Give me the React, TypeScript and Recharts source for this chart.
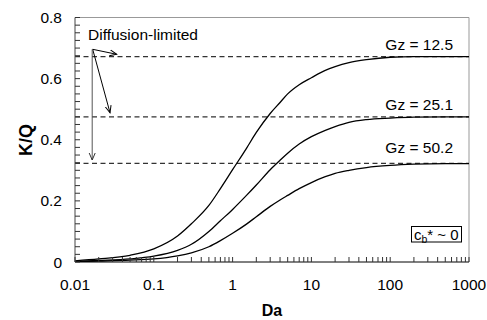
import React from 'react';
import { LineChart, Line, XAxis, YAxis, ReferenceLine } from 'recharts';

// Damköhler number (x axis)
const da = [0.01, 0.02, 0.05, 0.1, 0.2, 0.3, 0.5, 0.7, 1, 1.5, 2, 3, 4, 5, 7, 10, 15, 20, 30, 50, 100, 200, 500, 1000];
// K/Q for each Graetz number
const kqGz125 = [0.004, 0.01, 0.022, 0.043, 0.085, 0.125, 0.185, 0.24, 0.302, 0.372, 0.424, 0.486, 0.522, 0.55, 0.58, 0.603, 0.627, 0.639, 0.652, 0.662, 0.67, 0.672, 0.672, 0.672];
const kqGz251 = [0.002, 0.005, 0.01, 0.019, 0.038, 0.058, 0.1, 0.135, 0.172, 0.218, 0.252, 0.302, 0.333, 0.356, 0.386, 0.41, 0.431, 0.443, 0.457, 0.466, 0.471, 0.474, 0.475, 0.475];
const kqGz502 = [0.001, 0.003, 0.006, 0.01, 0.02, 0.03, 0.05, 0.07, 0.094, 0.124, 0.148, 0.182, 0.203, 0.218, 0.24, 0.26, 0.279, 0.29, 0.3, 0.309, 0.316, 0.32, 0.322, 0.322];

// Diffusion-limited asymptotes
const limits = [0.672, 0.475, 0.323];
const gzLabels = ['Gz = 12.5', 'Gz = 25.1', 'Gz = 50.2'];
const gzLabelRaise = [6.7, 6.7, 10];

const xMajor = [0.01, 0.1, 1, 10, 100, 1000];
const xMajorLabels = ['0.01', '0.1', '1', '10', '100', '1000'];
const xMinorMultipliers = [2, 3, 4, 5, 6, 7, 8, 9];
const yMajor = [0, 0.2, 0.4, 0.6, 0.8];
const yMajorLabels = ['0', '0.2', '0.4', '0.6', '0.8'];
const yMinor = [0.025, 0.05, 0.075, 0.1, 0.125, 0.15, 0.175, 0.225, 0.25, 0.275, 0.3, 0.325, 0.35, 0.375, 0.425, 0.45, 0.475, 0.5, 0.525, 0.55, 0.575, 0.625, 0.65, 0.675, 0.7, 0.725, 0.75, 0.775];

const xTicks = [
  ...xMajor,
  ...xMajor.slice(0, -1).flatMap((d) => xMinorMultipliers.map((m) => +(d * m).toPrecision(3))),
].sort((a, b) => a - b);
const yTicks = [...yMajor, ...yMinor].sort((a, b) => a - b);

const data = da.map((d, i) => ({ da: d, g1: kqGz125[i], g2: kqGz251[i], g3: kqGz502[i] }));

const FONT = '"Liberation Sans", Arial, sans-serif';

const XTick = (props: any) => {
  const { x, y, payload } = props;
  const v = payload.value;
  const idx = xMajor.findIndex((m) => Math.abs(m - v) < 1e-9);
  return (
    <g>
      <line x1={x} x2={x} y1={y} y2={y - 5} stroke="#333" strokeWidth={1} />
      {idx >= 0 && (
        <text x={x} y={y + 28} textAnchor="middle" fontFamily={FONT} fontSize={15.5} fill="#000">
          {xMajorLabels[idx]}
        </text>
      )}
    </g>
  );
};

const YTick = (props: any) => {
  const { x, y, payload } = props;
  const v = payload.value;
  const idx = yMajor.findIndex((m) => Math.abs(m - v) < 1e-9);
  return (
    <g>
      <line x1={x} x2={x + 5} y1={y} y2={y} stroke="#333" strokeWidth={1} />
      {idx >= 0 && (
        <text x={x - 13} y={y} dy="0.36em" textAnchor="end" fontFamily={FONT} fontSize={15.5} fill="#000">
          {yMajorLabels[idx]}
        </text>
      )}
    </g>
  );
};

const makeGzLabel = (i: number) => (props: any) => {
  const vb = props.viewBox || {};
  const x = (vb.x ?? 0) + (vb.width ?? 0) - 16;
  const y = (vb.y ?? 0) - gzLabelRaise[i];
  return (
    <text x={x} y={y} textAnchor="end" fontFamily={FONT} fontSize={15.5} fill="#000">
      {gzLabels[i]}
    </text>
  );
};

export default function App() {
  return (
    <div style={{ position: 'absolute', left: 0, top: 0, width: 487, height: 320, background: '#fff' }}>
      <LineChart
        width={487}
        height={320}
        data={data}
        margin={{ top: 17.5, right: 18, bottom: 18, left: 30 }}
      >
        <XAxis
          dataKey="da"
          type="number"
          scale="log"
          domain={[0.01, 1000]}
          allowDataOverflow
          ticks={xTicks}
          interval={0}
          tickSize={0}
          tickMargin={0}
          tickLine={false}
          tick={(p: any) => <XTick {...p} />}
          axisLine={{ stroke: '#000', strokeWidth: 1 }}
          height={40}
        />
        <YAxis
          type="number"
          domain={[0, 0.8]}
          allowDataOverflow
          ticks={yTicks}
          interval={0}
          tickSize={0}
          tickMargin={0}
          tickLine={false}
          tick={(p: any) => <YTick {...p} />}
          axisLine={{ stroke: '#444', strokeWidth: 1 }}
          width={45}
        />
        <ReferenceLine y={0.8} stroke="#999" strokeWidth={1} />
        <ReferenceLine x={1000} stroke="#999" strokeWidth={1} />
        {limits.map((v, i) => (
          <ReferenceLine
            key={i}
            y={v}
            stroke="#333"
            strokeWidth={1.2}
            strokeDasharray="5 3.5"
            label={makeGzLabel(i)}
          />
        ))}
        <Line type="monotone" dataKey="g1" stroke="#000" strokeWidth={1.3} dot={false} isAnimationActive={false} />
        <Line type="monotone" dataKey="g2" stroke="#000" strokeWidth={1.3} dot={false} isAnimationActive={false} />
        <Line type="monotone" dataKey="g3" stroke="#000" strokeWidth={1.3} dot={false} isAnimationActive={false} />
      </LineChart>
      <svg
        width={487}
        height={320}
        style={{ position: 'absolute', left: 0, top: 0, pointerEvents: 'none' }}
      >
        <defs>
          <marker id="ah" markerWidth={8} markerHeight={8} refX={7} refY={4} orient="auto" markerUnits="userSpaceOnUse">
            <path d="M0,1 L7,4 L0,7" fill="none" stroke="#000" strokeWidth={1} />
          </marker>
          <marker id="ahg" markerWidth={8} markerHeight={8} refX={7} refY={4} orient="auto" markerUnits="userSpaceOnUse">
            <path d="M0,1 L7,4 L0,7" fill="none" stroke="#333" strokeWidth={1} />
          </marker>
        </defs>
        <text x={88} y={40} fontFamily={FONT} fontSize={15.5} fill="#000">Diffusion-limited</text>
        <line x1={92.7} y1={49.3} x2={116.7} y2={54.3} stroke="#000" strokeWidth={1} markerEnd="url(#ah)" />
        <line x1={92.7} y1={49.3} x2={110} y2={112.7} stroke="#000" strokeWidth={1} markerEnd="url(#ah)" />
        <line x1={92.2} y1={49.3} x2={92.2} y2={160} stroke="#555" strokeWidth={1} markerEnd="url(#ahg)" />
        <rect x={411.5} y={226.5} width={50} height={15.5} fill="#fff" stroke="#000" strokeWidth={1} />
        <text x={414} y={239.5} fontFamily={FONT} fontSize={15} fill="#000">
          c<tspan fontSize={10.5} dy={3}>b</tspan>
          <tspan dy={-3}>* ~ 0</tspan>
        </text>
        <text
          x={0}
          y={0}
          transform="translate(31.5,140) rotate(-90)"
          textAnchor="middle"
          fontFamily={FONT}
          fontSize={18}
          fontWeight="bold"
          fill="#000"
        >
          K/Q
        </text>
        <text x={272} y={316} textAnchor="middle" fontFamily={FONT} fontSize={16} fontWeight="bold" fill="#000">
          Da
        </text>
      </svg>
    </div>
  );
}
